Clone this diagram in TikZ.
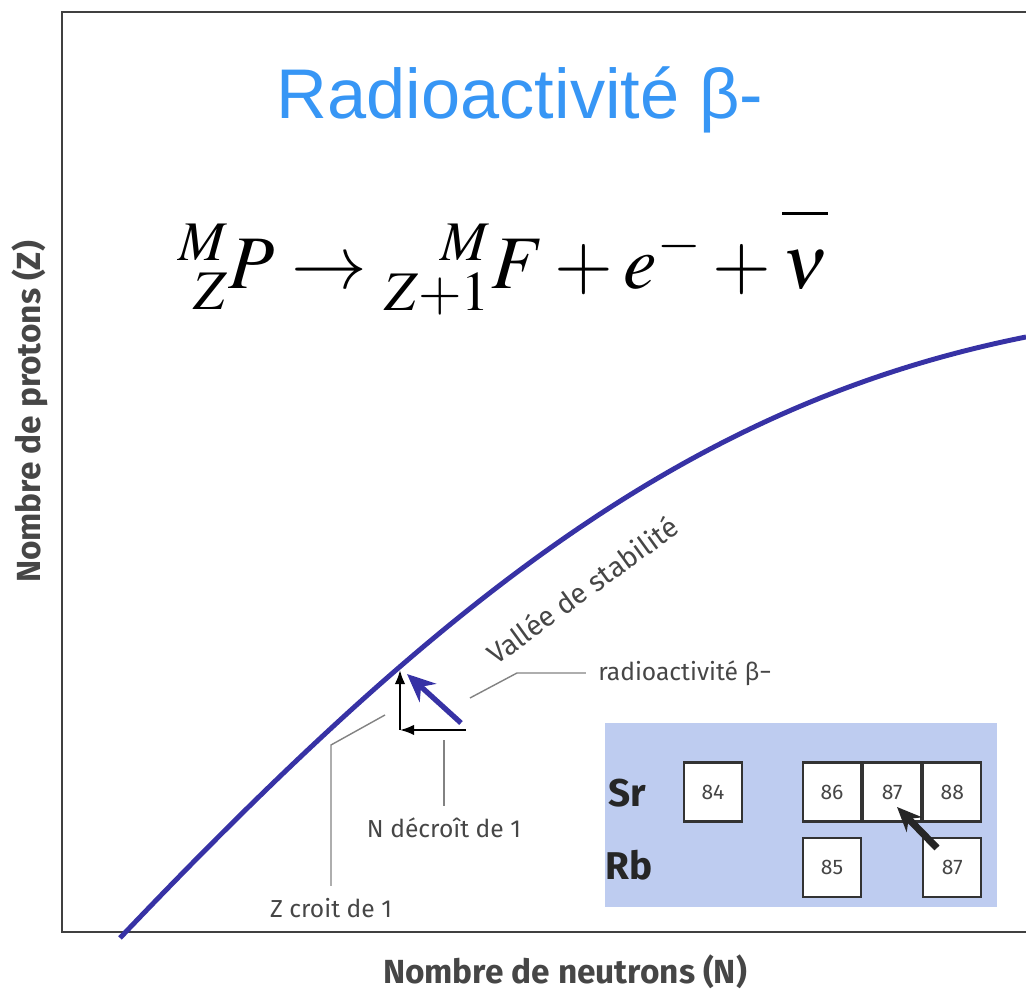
\documentclass[tikz,border=0pt]{standalone}
\usepackage{mathptmx}
\usepackage{mathtools}
\usepackage{fontspec}
\newfontfamily\labelfont{Fira Sans}
\newfontfamily\titlefont{Liberation Sans}
\usetikzlibrary{positioning,arrows.meta}

\definecolor{titleblue}{RGB}{55,150,245}
\definecolor{valleyblue}{RGB}{55,50,165}
\definecolor{panelblue}{RGB}{190,204,240}
\definecolor{labelgray}{RGB}{70,70,70}
\definecolor{leadergray}{RGB}{130,130,130}

\begin{document}
\begin{tikzpicture}[x=0.01cm,y=-0.01cm]
\tikzstyle{every node}=[text=labelgray,font=\labelfont\fontsize{7}{8}\selectfont]
\tikzstyle{frame}=[draw=black!75,line width=0.8pt]
\tikzstyle{leader}=[draw=leadergray,line width=0.4pt]
\tikzstyle{isobox}=[draw=black!80,fill=white,line width=0.6pt,minimum width=0.58cm,minimum height=0.59cm,inner sep=0pt,font=\labelfont\fontsize{6}{7}\selectfont]
\useasboundingbox (0,0) rectangle (1026,992);

% axes
\draw[frame] (1026,12) -- (62,12) -- (62,932) -- (1026,932);
\node[rotate=90,font=\labelfont\bfseries\fontsize{9.5}{11}\selectfont] (ylab) at (30,412) {Nombre de protons (Z)};
\node[font=\labelfont\bfseries\fontsize{9.5}{11}\selectfont] (xlab) at (565,972) {Nombre de neutrons (N)};

% title and equation
\node[text=titleblue,font=\titlefont\fontsize{20}{24}\selectfont] (title) at (520,100) {Radioactivité β-};
\node[text=black,font=\fontsize{21.5}{26}\selectfont] (eq) at (503,262)
  {$\prescript{M}{Z}{P} \rightarrow \prescript{M}{Z+1}{F} + e^{-} + \overline{\vphantom{F^{M}}\nu}$};

% valley of stability
\draw[valleyblue,line width=1.4pt] (120,938) .. controls (450,591) and (696,403) .. (1026,337);
\node[rotate=36,font=\labelfont\fontsize{8}{9}\selectfont] (vallee) at (582,590) {Vallée de stabilité};

% decay step
\coordinate (top) at (400,670);
\coordinate (corner) at (400,730);
\coordinate (right) at (466,730);
\draw[black,line width=0.6pt,-{Latex[length=4pt,width=3pt]}] (corner) -- (top);
\draw[black,line width=0.6pt,-{Latex[length=4pt,width=3pt]}] (right) -- (corner);
\draw[valleyblue,line width=1.5pt,-{Stealth[length=8pt,width=7pt]}] (461,723) -- (407,674);

% labels
\node (beta) at (685,673) {radioactivité β−};
\draw[leader] (beta.west) -- (517,673) -- (470,698);
\node (ndec) at (444,828) {N décroît de 1};
\draw[leader] (ndec.north) -- (444,740);
\node (zcroit) at (331,908) {Z croit de 1};
\draw[leader] (zcroit.north) -- (331,745) -- (385,715);

% isotope panel
\fill[panelblue] (605,723) rectangle (997,907);
\node[font=\labelfont\bfseries\fontsize{11}{12}\selectfont,text=black!85] (sr) at (627,793) {Sr};
\node[font=\labelfont\bfseries\fontsize{11}{12}\selectfont,text=black!85] (rb) at (629,865) {Rb};
\node[isobox] (sr84) at (713,792) {84};
\node[isobox] (sr86) at (832,792) {86};
\node[isobox,right=0pt of sr86] (sr87) {87};
\node[isobox,right=0pt of sr87] (sr88) {88};
\node[isobox,below=0.14cm of sr86] (rb85) {85};
\node[isobox,below=0.14cm of sr88] (rb87) {87};
\coordinate (decayfrom) at (937,848);
\coordinate (decayto) at (897,807);
\draw[black!85,line width=2pt,-{Stealth[length=7pt,width=6pt]}] (decayfrom) -- (decayto);
\end{tikzpicture}
\end{document}
